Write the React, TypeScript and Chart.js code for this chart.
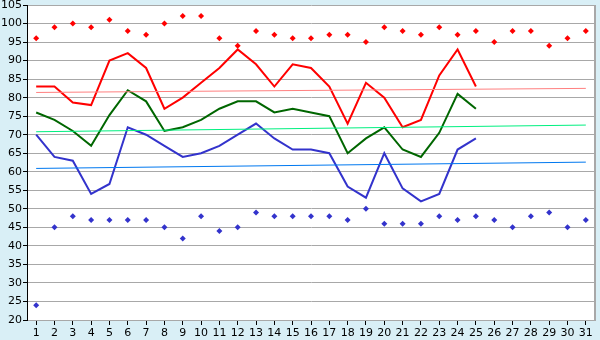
import React, { useEffect, useRef } from "react";
import { Chart, registerables } from "chart.js";
Chart.register(...registerables);

const days = ["1","2","3","4","5","6","7","8","9","10","11","12","13","14","15","16","17","18","19","20","21","22","23","24","25","26","27","28","29","30","31"];
const maxValues = [96,99,100,99,101,98,97,100,102,102,96,94,98,97,96,96,97,97,95,99,98,97,99,97,98,95,98,98,94,96,98];
const minValues = [24,45,48,47,47,47,47,45,42,48,44,45,49,48,48,48,48,47,50,46,46,46,48,47,48,47,45,48,49,45,47];
const redLine = [83,83,78.7,78,90,92,88,77,80,84,88,93,89,83,89,88,83,73,84,80,72,74,86,93,83,null,null,null,null,null,null];
const greenLine = [76,74,71,67,75.3,82,79,71,72,74,77,79,79,76,77,76,75,65,69,72,66,64,70.5,81,77,null,null,null,null,null,null];
const blueLine = [70,64,63,54,56.7,72,70,67,64,65,67,70,73,69,66,66,65,56,53,65,55.5,52,54,66,69,null,null,null,null,null,null];
const redTrendEnds = [81.4, 82.5];
const greenTrendEnds = [70.8, 72.6];
const blueTrendEnds = [60.9, 62.6];
const yMin = 20;
const yMax = 105;
const yStep = 5;

function trend(ends: number[]) {
  return days.map((_, i) => (i === 0 ? ends[0] : i === days.length - 1 ? ends[1] : null));
}

const bgPlugin = {
  id: "bg",
  beforeDraw(chart: any) {
    const { ctx, chartArea } = chart;
    ctx.save();
    ctx.fillStyle = "#d9eff6";
    ctx.fillRect(0, 0, chart.width, chart.height);
    ctx.fillStyle = "#ffffff";
    ctx.fillRect(chartArea.left, chartArea.top, chartArea.right - chartArea.left, chartArea.bottom - chartArea.top);
    ctx.restore();
  },
  afterDraw(chart: any) {
    const { ctx, chartArea } = chart;
    ctx.save();
    ctx.strokeStyle = "#a8a8a8";
    ctx.lineWidth = 2;
    ctx.beginPath();
    ctx.moveTo(chartArea.right, chartArea.top);
    ctx.lineTo(chartArea.right, chartArea.bottom);
    ctx.stroke();
    ctx.restore();
  },
};

export default function App() {
  const ref = useRef<HTMLCanvasElement>(null);
  useEffect(() => {
    document.body.style.margin = "0";
    const font = { family: "DejaVu Sans", size: 11 };
    const chart = new Chart(ref.current!, {
      type: "line",
      data: {
        labels: days,
        datasets: [
          { data: trend(redTrendEnds), borderColor: "#ff8080", borderWidth: 1, pointRadius: 0, spanGaps: true },
          { data: trend(greenTrendEnds), borderColor: "#00f080", borderWidth: 1, pointRadius: 0, spanGaps: true },
          { data: trend(blueTrendEnds), borderColor: "#0078f0", borderWidth: 1, pointRadius: 0, spanGaps: true },
          { data: redLine, borderColor: "#ff0000", borderWidth: 2, pointRadius: 0, tension: 0 },
          { data: greenLine, borderColor: "#006600", borderWidth: 2, pointRadius: 0, tension: 0 },
          { data: blueLine, borderColor: "#3333cc", borderWidth: 2, pointRadius: 0, tension: 0 },
          { data: maxValues, showLine: false, pointStyle: "rectRot", pointRadius: 3, backgroundColor: "#ff0000", borderColor: "#ff0000", borderWidth: 0 },
          { data: minValues, showLine: false, pointStyle: "rectRot", pointRadius: 3, backgroundColor: "#3333cc", borderColor: "#3333cc", borderWidth: 0 },
        ] as any,
      },
      options: {
        responsive: false,
        animation: false,
        layout: { padding: { top: 5, right: 5, left: 0, bottom: 0 } },
        plugins: { legend: { display: false }, tooltip: { enabled: false } },
        scales: {
          x: {
            offset: true,
            grid: { drawOnChartArea: false, offset: false, tickLength: 5, tickColor: "#000000" },
            border: { color: "#a8a8a8" },
            ticks: { color: "#000000", font, padding: 2, maxRotation: 0, autoSkip: false },
            afterFit: (s: any) => { s.height = 20; s.paddingLeft = 0; s.paddingRight = 0; },
          },
          y: {
            min: yMin,
            max: yMax,
            grid: { color: "#a8a8a8", tickLength: 4, tickColor: "#000000" },
            border: { color: "#000000" },
            ticks: { stepSize: yStep, color: "#000000", font, padding: 1 },
            afterFit: (s: any) => { s.width = 27; s.paddingTop = 0; s.paddingBottom = 0; },
          },
        },
      },
      plugins: [bgPlugin],
    });
    return () => chart.destroy();
  }, []);
  return (
    <div style={{ width: 600, height: 340 }}>
      <canvas ref={ref} width={600} height={340} style={{ display: "block" }} />
    </div>
  );
}
